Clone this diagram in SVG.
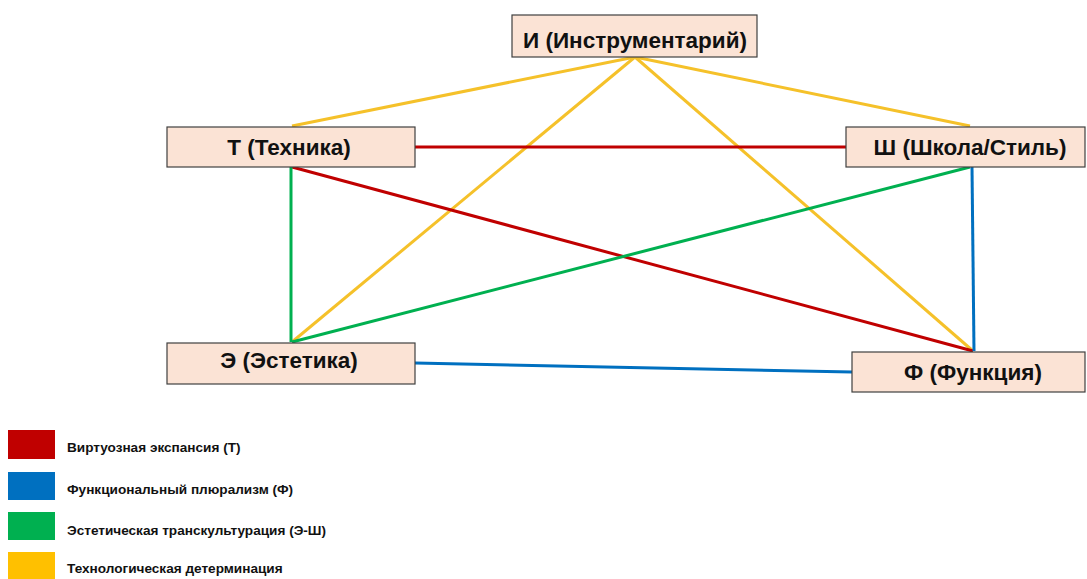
<svg xmlns="http://www.w3.org/2000/svg" width="1087" height="579" viewBox="0 0 1087 579">
<style>
.node rect{fill:#FBE3D5;stroke:#404040;stroke-width:1.2}
.node text{font-family:"Liberation Sans",Arial,sans-serif;font-weight:bold;font-size:22.5px;fill:#111;text-anchor:middle}
.c{fill:none;stroke-width:3}
.r{stroke:#C00000}.b{stroke:#0070C0}.g{stroke:#00B050}.y{stroke:#F5C12A}
.leg text{font-family:"Liberation Sans",Arial,sans-serif;font-weight:bold;font-size:13.6px;fill:#111}
</style>
<rect width="1087" height="579" fill="#fff"/>
<g id="connectors">
<line class="c y" x1="635" y1="57" x2="292" y2="126"/>
<line class="c y" x1="635" y1="57" x2="970" y2="126"/>
<line class="c y" x1="635" y1="57" x2="292" y2="342"/>
<line class="c y" x1="635" y1="57" x2="973" y2="351"/>
<line class="c r" x1="415" y1="147" x2="846" y2="147"/>
<line class="c r" x1="292" y1="167" x2="973" y2="351"/>
<line class="c g" x1="291" y1="167" x2="291" y2="342"/>
<line class="c g" x1="292" y1="342" x2="970" y2="167"/>
<line class="c b" x1="972" y1="167" x2="974" y2="351"/>
<line class="c b" x1="415" y1="363" x2="852" y2="372"/>
</g>
<g id="node-I" class="node"><rect x="512" y="15" width="245" height="42"/><text x="635" y="48">И (Инструментарий)</text></g>
<g id="node-T" class="node"><rect x="167" y="127" width="248" height="40"/><text x="289" y="155">Т (Техника)</text></g>
<g id="node-Sh" class="node"><rect x="846" y="127" width="239" height="40"/><text x="970" y="155">Ш (Школа/Стиль)</text></g>
<g id="node-E" class="node"><rect x="167" y="343" width="248" height="41"/><text x="289" y="368">Э (Эстетика)</text></g>
<g id="node-F" class="node"><rect x="852" y="352" width="233" height="40"/><text x="973" y="380">Ф (Функция)</text></g>
<g id="legend" class="leg">
<rect x="8" y="430" width="47" height="29" fill="#C00000"/>
<text x="67" y="452">Виртуозная экспансия (Т)</text>
<rect x="8" y="472" width="47" height="28" fill="#0070C0"/>
<text x="67" y="494">Функциональный плюрализм (Ф)</text>
<rect x="8" y="512" width="47" height="28" fill="#00B050"/>
<text x="67" y="535">Эстетическая транскультурация (Э-Ш)</text>
<rect x="8" y="552" width="47" height="28" fill="#FFC000"/>
<text x="67" y="573">Технологическая детерминация</text>
</g>
</svg>
